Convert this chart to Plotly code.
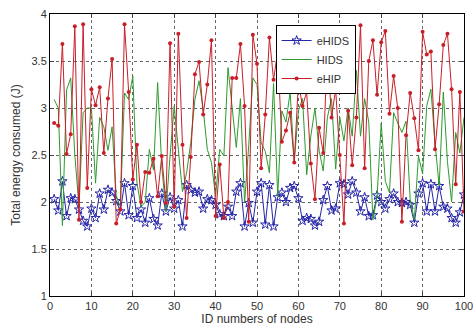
import plotly.graph_objects as go

node_ids = list(range(1, 101))

ehids = [2.03, 1.91, 2.22, 1.85, 2.04, 2.03, 1.92, 1.80, 1.74, 1.93,
         1.83, 2.09, 1.92, 2.13, 2.10, 2.01, 1.90, 2.20, 1.86, 2.17,
         1.83, 1.92, 1.78, 2.04, 1.82, 1.75, 2.09, 1.90, 2.05, 1.93,
         2.02, 1.74, 2.18, 2.13, 2.10, 2.11, 1.93, 2.03, 2.02, 1.97,
         1.87, 1.85, 1.95, 1.85, 2.11, 2.20, 1.74, 1.99, 1.78, 2.11,
         2.20, 1.76, 2.18, 1.74, 2.05, 2.10, 2.00, 2.15, 2.17, 2.04,
         1.80, 1.83, 1.82, 1.75, 1.79, 2.02, 2.17, 1.91, 1.93, 2.20,
         2.19, 2.08, 2.22, 2.10, 1.90, 2.05, 1.85, 1.86, 2.07, 2.00,
         1.93, 2.03, 2.09, 2.00, 1.99, 2.00, 1.97, 1.78, 2.09, 2.20,
         1.90, 2.19, 1.90, 2.17, 1.95, 1.93, 1.83, 1.78, 1.89, 2.08]

hids = [3.09, 3.00, 1.75, 3.19, 3.32, 2.50, 1.95, 2.95, 3.00, 3.00,
        2.20, 2.90, 2.80, 2.55, 2.80, 2.06, 1.95, 3.16, 3.09, 3.34,
        2.20, 1.95, 2.00, 2.56, 2.34, 3.27, 2.38, 1.90, 2.49, 3.02,
        2.56, 2.11, 2.31, 2.63, 3.09, 3.29, 2.99, 2.56, 2.42, 2.06,
        2.56, 2.49, 3.43, 3.00, 2.58, 3.10, 1.99, 2.60, 3.32, 3.25,
        2.63, 2.54, 2.31, 3.26, 2.06, 2.97, 2.85, 3.17, 2.43, 2.97,
        3.10, 2.29, 2.70, 3.00, 2.55, 2.33, 2.90, 3.10, 2.35, 2.90,
        2.65, 3.00, 2.70, 3.40, 2.70, 3.10, 2.85, 1.81, 2.05, 2.84,
        2.22, 2.10, 2.95, 2.84, 2.74, 2.86, 2.03, 1.81, 2.49, 2.30,
        3.02, 3.20, 2.63, 2.17, 3.17, 2.43, 2.00, 2.74, 2.52, 2.90]

ehip = [2.84, 2.81, 3.68, 2.51, 2.72, 3.87, 1.81, 3.89, 2.15, 3.20,
        3.03, 3.22, 2.52, 3.10, 3.52, 1.77, 1.92, 3.89, 3.17, 2.24,
        2.61, 2.00, 2.32, 2.31, 2.46, 2.06, 2.49, 1.99, 3.69, 1.95,
        3.79, 2.61, 1.83, 2.48, 3.36, 3.49, 2.93, 3.25, 3.72, 1.85,
        2.40, 1.83, 2.00, 3.32, 3.32, 3.68, 3.02, 1.79, 3.78, 3.47,
        2.36, 2.93, 3.75, 3.30, 3.60, 2.64, 2.76, 2.95, 2.42, 3.27,
        3.02, 3.17, 2.41, 2.03, 2.79, 2.52, 3.60, 2.90, 3.20, 2.50,
        1.77, 2.97, 2.39, 2.90, 3.88, 2.36, 3.50, 3.72, 3.14, 3.70,
        3.82, 2.94, 3.34, 3.00, 1.79, 2.71, 3.16, 2.89, 2.55, 3.81,
        3.57, 3.60, 2.56, 3.04, 3.67, 3.79, 3.20, 2.19, 3.17, 1.90]

x_ticks = [0, 10, 20, 30, 40, 50, 60, 70, 80, 90, 100]
y_ticks = [1, 1.5, 2, 2.5, 3, 3.5, 4]
y_tick_labels = ["1", "1.5", "2", "2.5", "3", "3.5", "4"]

fig = go.Figure()
fig.add_trace(go.Scatter(
    x=node_ids, y=ehids, name="eHIDS", mode="lines+markers",
    line=dict(color="#2424a8", width=1),
    marker=dict(symbol="star-open", size=7, color="#2424a8", line=dict(width=1, color="#2424a8")),
))
fig.add_trace(go.Scatter(
    x=node_ids, y=hids, name="HIDS", mode="lines",
    line=dict(color="#2e9a2e", width=1),
))
fig.add_trace(go.Scatter(
    x=node_ids, y=ehip, name="eHIP", mode="lines+markers",
    line=dict(color="#c81e28", width=1),
    marker=dict(symbol="circle", size=4, color="#c81e28"),
))

axis_font = dict(family="Liberation Sans, Arial, sans-serif", size=11, color="#333333")
title_font = dict(family="Liberation Sans, Arial, sans-serif", size=12, color="#333333")

fig.update_layout(
    width=473, height=326,
    margin=dict(l=50, r=9, t=14, b=30),
    paper_bgcolor="white", plot_bgcolor="white",
    font=axis_font,
    showlegend=True,
    legend=dict(
        x=0.545, y=0.961, xanchor="left", yanchor="top",
        bgcolor="white", bordercolor="black", borderwidth=1,
        font=dict(family="Liberation Sans, Arial, sans-serif", size=11, color="#333333"),
        tracegroupgap=0, itemwidth=30,
    ),
    xaxis=dict(
        range=[0, 100], tickvals=x_ticks, ticks="inside", ticklen=4,
        showline=True, linecolor="black", linewidth=1, mirror="ticks",
        showgrid=True, gridcolor="#666666", griddash="dot", gridwidth=1,
        zeroline=False, automargin=False, ticklabeloverflow="allow",
        title=dict(text="ID numbers of nodes", standoff=3, font=title_font),
        tickfont=axis_font,
    ),
    yaxis=dict(
        range=[1, 4], tickvals=y_ticks, ticktext=y_tick_labels, ticks="inside", ticklen=4,
        showline=True, linecolor="black", linewidth=1, mirror="ticks",
        showgrid=True, gridcolor="#666666", griddash="dot", gridwidth=1,
        zeroline=False, automargin=False,
        title=dict(text="Total energy consumed (J)", standoff=8, font=title_font),
        tickfont=axis_font,
    ),
)

fig.write_html("out.html", config={"displayModeBar": False},
               post_script="document.body.style.margin='0';document.body.style.overflow='hidden';")
